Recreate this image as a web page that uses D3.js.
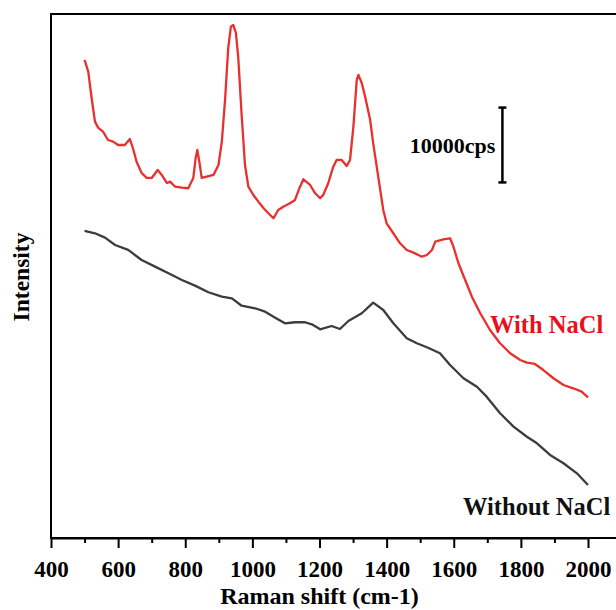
<!DOCTYPE html>
<html>
<head>
    <meta charset="utf-8">
    <title>Raman spectra</title>
    <script src="https://d3js.org/d3.v7.min.js"></script>
    <style type="text/css">
        body { margin: 0; background: #fff; }
        .axis path,
        .axis line {
            fill: none;
            stroke: #000;
            stroke-width: 2px;
        }
        .axis text {
            font-family: "Liberation Serif", "Times New Roman", serif;
            font-weight: bold;
            font-size: 23px;
            fill: #000;
        }
        .lbl {
            font-family: "Liberation Serif", "Times New Roman", serif;
            font-weight: bold;
        }
    </style>
</head>
<body>
<script>
    var w = 616;
    var h = 610;

    // Raman shift (cm-1) and counts
    var withNaClShift = [500, 511, 521, 531, 541, 555, 570, 585, 600, 620, 635, 644, 655, 670, 685, 700,
        718, 730, 745, 755, 770, 790, 809, 824, 831, 836, 842, 849, 864, 884, 899, 909, 919, 928, 936,
        943, 951, 958, 968, 978, 988, 1003, 1018, 1033, 1053, 1063, 1077, 1092, 1112, 1127, 1142, 1152,
        1172, 1187, 1202, 1211, 1226, 1241, 1251, 1266, 1281, 1291, 1301, 1311, 1316, 1326, 1336, 1351,
        1360, 1375, 1390, 1400, 1420, 1440, 1460, 1480, 1505, 1520, 1535, 1545, 1569, 1589, 1599, 1614,
        1634, 1654, 1679, 1708, 1738, 1768, 1798, 1818, 1842, 1867, 1897, 1927, 1956, 1981, 2000];
    var withNaClCounts = [63860, 62300, 58780, 55620, 54780, 54280, 53170, 52950, 52500, 52500, 53300,
        52100, 50270, 48760, 48100, 48100, 49160, 48500, 47430, 47600, 46930, 46800, 46720, 48100, 50770,
        51840, 50270, 48100, 48270, 48500, 49830, 52950, 58780, 65460, 68310, 68540, 67470, 64130, 56510,
        49830, 46930, 45820, 44930, 44090, 43150, 42710, 43820, 44260, 44710, 45160, 46930, 47920, 47160,
        46050, 45380, 45820, 47390, 49600, 50500, 50500, 49700, 50500, 54950, 61190, 61860, 60750, 58960,
        55840, 52730, 48270, 43820, 42040, 40710, 39370, 38480, 38120, 37580, 37810, 38480, 39590, 39900,
        40040, 38920, 36700, 34470, 32240, 30020, 27790, 26010, 24680, 23780, 23420, 23250, 22440, 21340,
        20440, 20000, 19550, 18800];

    var withoutNaClShift = [500, 531, 561, 591, 630, 670, 710, 750, 790, 829, 869, 909, 939, 968, 1008,
        1038, 1068, 1097, 1127, 1157, 1177, 1202, 1236, 1261, 1286, 1326, 1360, 1390, 1420, 1460, 1490,
        1520, 1559, 1589, 1629, 1669, 1698, 1738, 1778, 1818, 1848, 1887, 1927, 1967, 2000];
    var withoutNaClCounts = [41020, 40710, 40120, 39140, 38480, 37140, 36250, 35360, 34470, 33710, 32830,
        32240, 32020, 31030, 30690, 30230, 29430, 28680, 28820, 28820, 28550, 27880, 28320, 27920, 28990,
        30020, 31440, 30460, 28680, 26680, 26010, 25480, 24680, 23110, 21340, 20210, 18880, 16660, 14870,
        13530, 12650, 11090, 9980, 8640, 7080];

    var majorTicks = [400, 600, 800, 1000, 1200, 1400, 1600, 1800, 2000];
    var minorTicks = [500, 700, 900, 1100, 1300, 1500, 1700, 1900];
    var scaleBarCounts = [47500, 57500];

    var xScale = d3.scaleLinear().domain([400, 2000]).range([51, 588]);
    var yScale = d3.scaleLinear().domain([0, 70000]).range([538, 14]);

    var svg = d3.select("body")
                .append("svg")
                .attr("width", w)
                .attr("height", h);

    // frame (right side runs off the picture)
    svg.append("rect")
        .attr("x", 51).attr("y", 14)
        .attr("width", 640).attr("height", 524)
        .attr("fill", "none")
        .attr("stroke", "#000")
        .attr("stroke-width", 2);

    var line = d3.line()
                 .x(function(d) { return xScale(d[0]); })
                 .y(function(d) { return yScale(d[1]); });

    svg.append("path")
        .datum(d3.zip(withoutNaClShift, withoutNaClCounts))
        .attr("d", line)
        .attr("fill", "none")
        .attr("stroke", "#3c3c3c")
        .attr("stroke-width", 2.3)
        .attr("stroke-linejoin", "round");

    svg.append("path")
        .datum(d3.zip(withNaClShift, withNaClCounts))
        .attr("d", line)
        .attr("fill", "none")
        .attr("stroke", "#e8302e")
        .attr("stroke-width", 2.3)
        .attr("stroke-linejoin", "round");

    // axes
    var xAxis = d3.axisBottom(xScale)
                  .tickValues(majorTicks)
                  .tickSize(10)
                  .tickSizeOuter(0)
                  .tickPadding(13)
                  .tickFormat(d3.format("d"));
    svg.append("g")
        .attr("class", "axis")
        .attr("transform", "translate(0,538)")
        .call(xAxis);

    var xMinor = d3.axisBottom(xScale)
                   .tickValues(minorTicks)
                   .tickSize(5)
                   .tickSizeOuter(0)
                   .tickFormat("");
    svg.append("g")
        .attr("class", "axis")
        .attr("transform", "translate(0,538)")
        .call(xMinor)
        .select(".domain").remove();

    svg.append("text")
        .attr("class", "lbl")
        .attr("x", xScale(1200))
        .attr("y", 604)
        .attr("text-anchor", "middle")
        .attr("font-size", "24px")
        .text("Raman shift (cm-1)");

    svg.append("text")
        .attr("class", "lbl")
        .attr("transform", "translate(29,277) rotate(-90)")
        .attr("text-anchor", "middle")
        .attr("font-size", "23.5px")
        .text("Intensity");

    // series labels
    svg.append("text")
        .attr("class", "lbl")
        .attr("x", 490).attr("y", 333)
        .attr("font-size", "24.5px")
        .attr("fill", "#e8101c")
        .text("With NaCl");

    svg.append("text")
        .attr("class", "lbl")
        .attr("x", 463).attr("y", 515)
        .attr("font-size", "24.5px")
        .attr("fill", "#111")
        .text("Without NaCl");

    // 10000 cps scale bar
    var barX = xScale(1745);
    var bar = svg.append("g")
        .attr("stroke", "#000")
        .attr("stroke-width", 2.5);
    bar.append("line")
        .attr("x1", barX).attr("x2", barX)
        .attr("y1", yScale(scaleBarCounts[0])).attr("y2", yScale(scaleBarCounts[1]));
    bar.selectAll("line.cap")
        .data(scaleBarCounts)
        .enter()
        .append("line")
        .attr("class", "cap")
        .attr("x1", barX - 4).attr("x2", barX + 4)
        .attr("y1", function(d) { return yScale(d); })
        .attr("y2", function(d) { return yScale(d); });

    svg.append("text")
        .attr("class", "lbl")
        .attr("x", barX - 7)
        .attr("y", 153)
        .attr("text-anchor", "end")
        .attr("font-size", "22px")
        .text("10000cps");
</script>
</body>
</html>
